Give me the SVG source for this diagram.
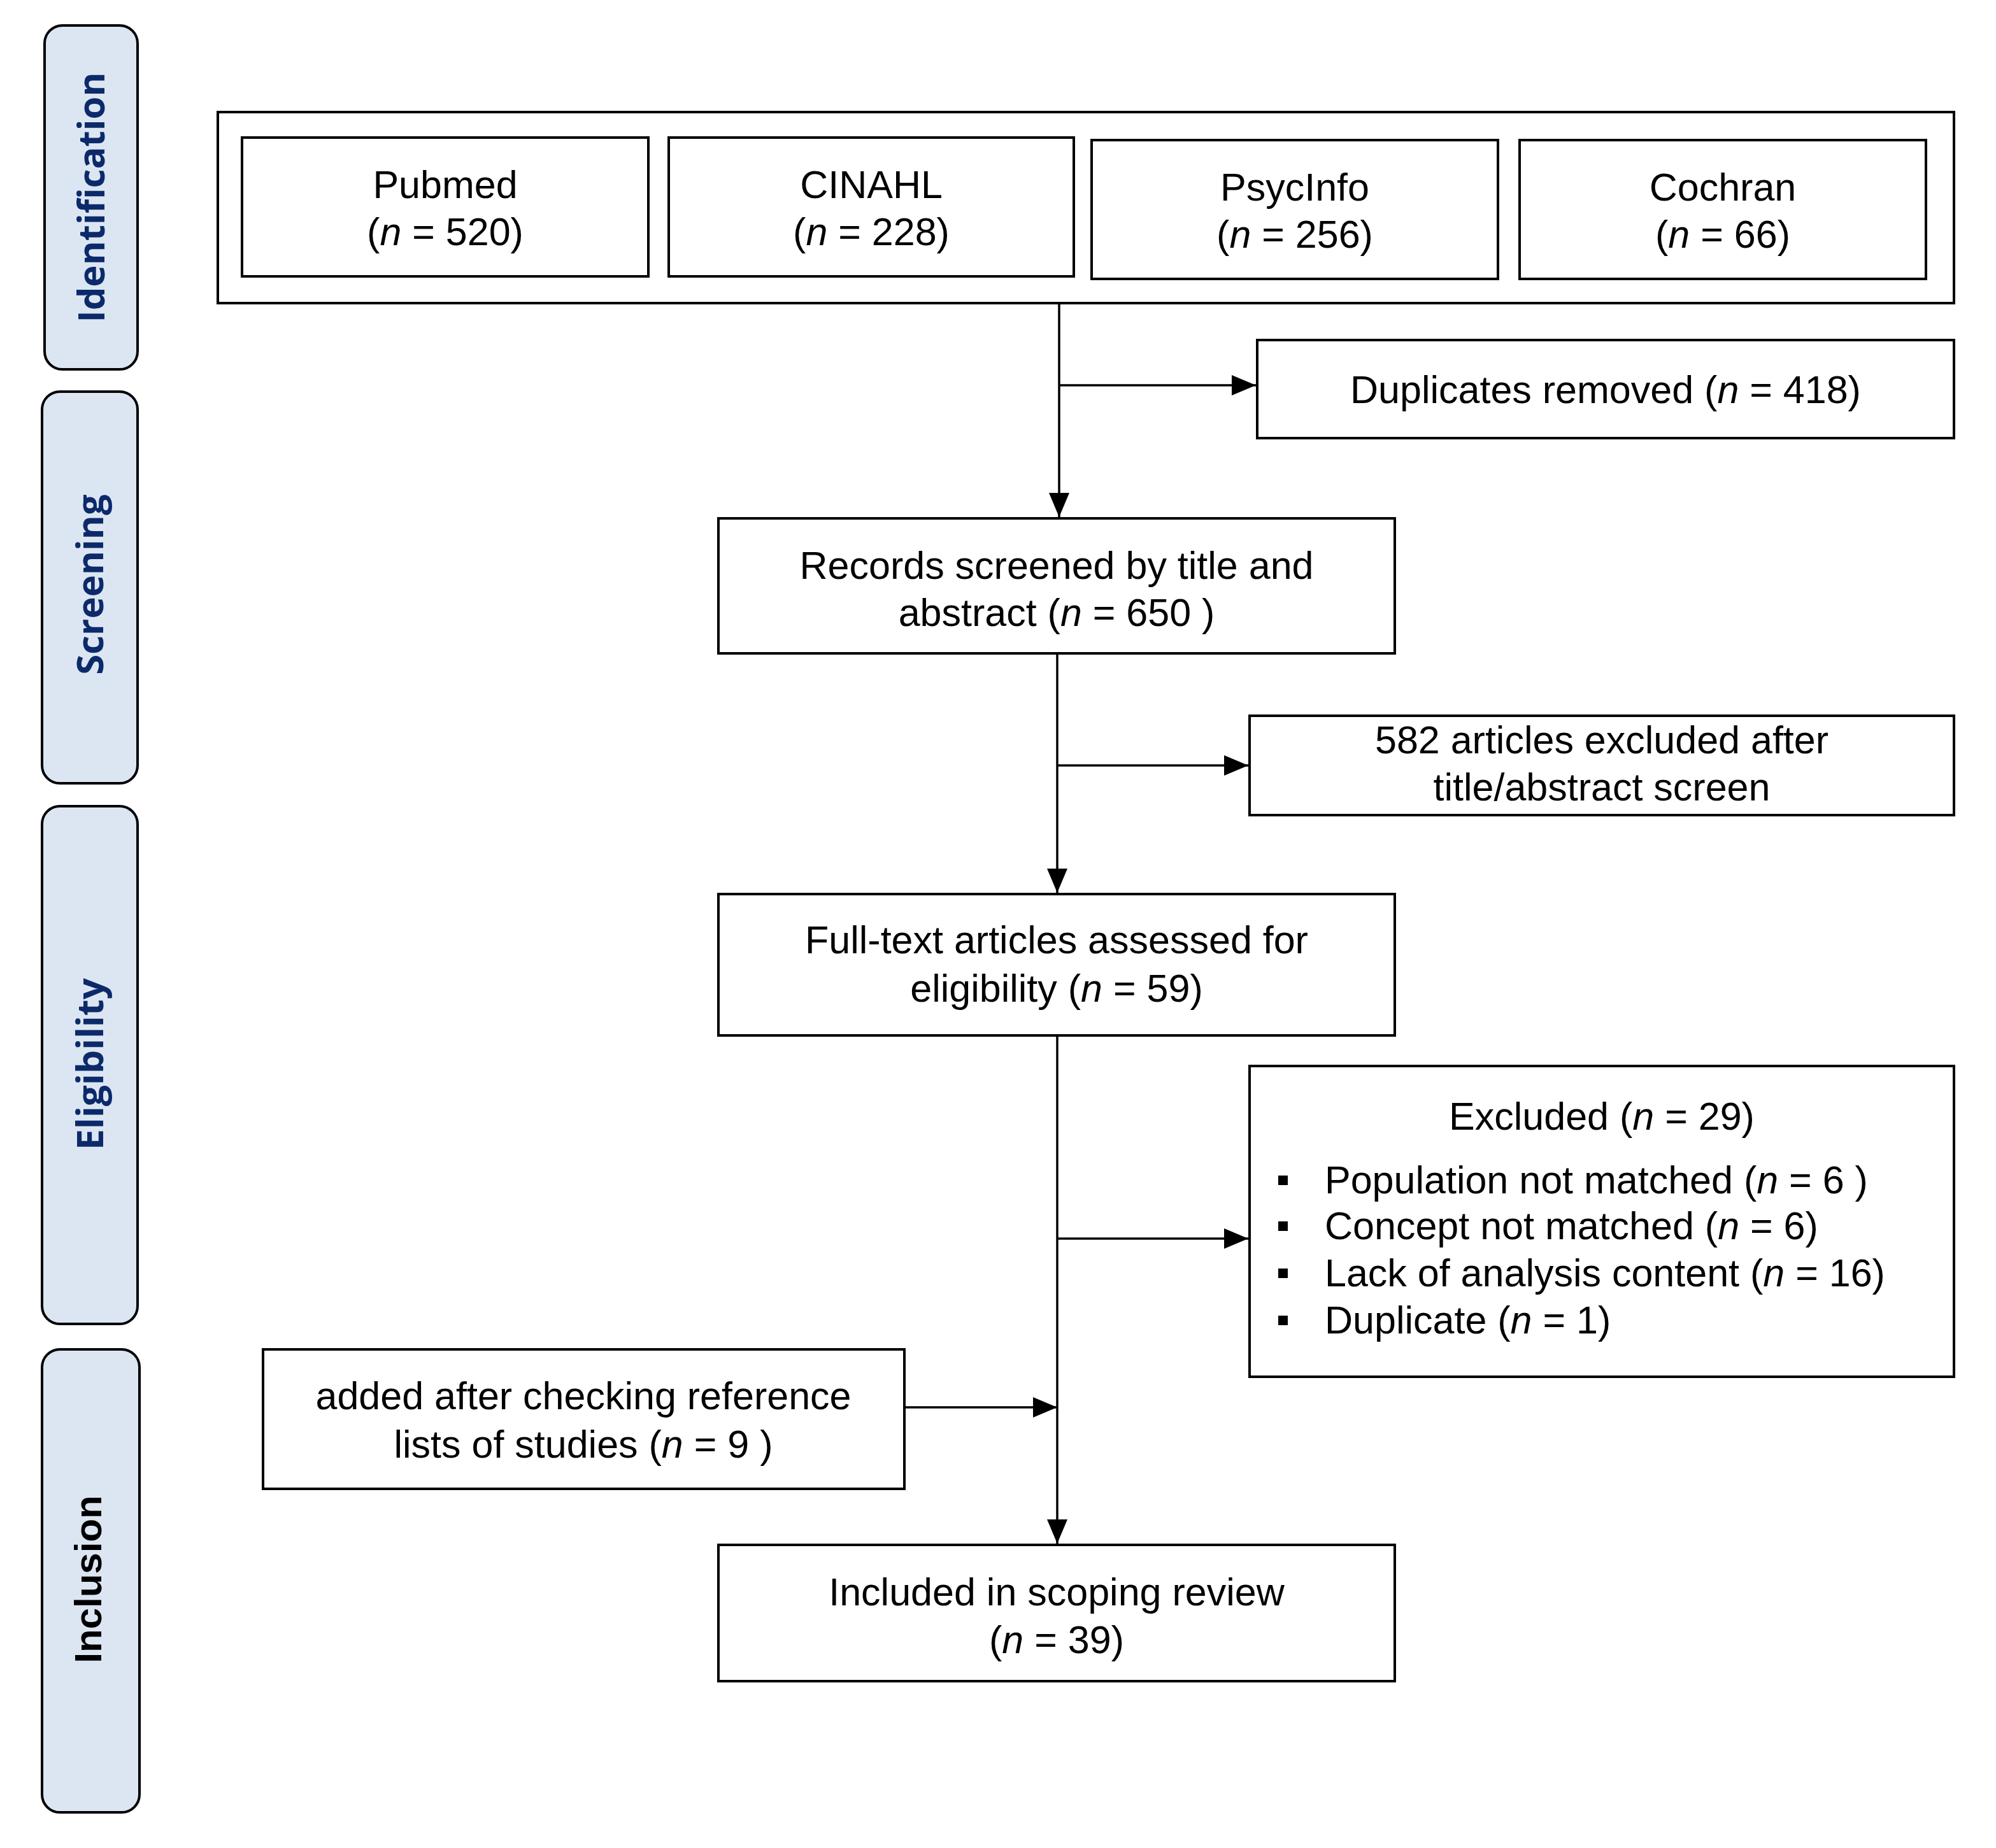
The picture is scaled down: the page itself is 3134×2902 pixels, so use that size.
<svg xmlns="http://www.w3.org/2000/svg" width="3134" height="2902" viewBox="0 0 3134 2902">
<defs>
<style>
.box{fill:#fff;stroke:#000;stroke-width:4}
.pill{fill:#DCE6F2;stroke:#000;stroke-width:4}
.t{font-family:"Liberation Sans",Arial,sans-serif;font-size:61px;fill:#000;text-anchor:middle}
.tl{font-family:"Liberation Sans",Arial,sans-serif;font-size:61px;fill:#000;text-anchor:start}
.ph{font-family:"Open Sans","DejaVu Sans",sans-serif;font-weight:bold;font-size:58px;fill:#0c2a6a;text-anchor:middle}
.phb{font-family:"Liberation Sans",Arial,sans-serif;font-weight:bold;font-size:60px;fill:#000;text-anchor:middle}
.i{font-style:italic}
.c{fill:none;stroke:#000;stroke-width:3.5}
</style>
<marker id="ah" markerUnits="userSpaceOnUse" markerWidth="38" markerHeight="32" refX="38" refY="16" orient="auto">
<path d="M0,0 L38,16 L0,32 z" fill="#000"/>
</marker>
</defs>
<rect width="3134" height="2902" fill="#fff"/>

<g id="phase-identification">
<rect class="pill" x="70" y="40" width="146" height="540" rx="28" ry="28"/>
<text class="ph" transform="translate(164,310) rotate(-90)">Identification</text>
</g>
<g id="phase-screening">
<rect class="pill" x="66" y="615" width="150" height="615" rx="28" ry="28"/>
<text class="ph" transform="translate(162,918) rotate(-90)">Screening</text>
</g>
<g id="phase-eligibility">
<rect class="pill" x="66" y="1266" width="150" height="813" rx="28" ry="28"/>
<text class="ph" transform="translate(162,1671) rotate(-90)" textLength="270" lengthAdjust="spacingAndGlyphs">Eligibility</text>
</g>
<g id="phase-inclusion">
<rect class="pill" x="66" y="2119" width="153" height="727" rx="28" ry="28"/>
<text class="phb" transform="translate(159,2480) rotate(-90)">Inclusion</text>
</g>

<g id="sources">
<rect class="box" x="342" y="176" width="2726" height="300"/>
</g>
<g id="pubmed">
<rect class="box" x="380" y="216" width="638" height="218"/>
<text class="t" x="699" y="311">Pubmed</text>
<text class="t" x="699" y="385">(<tspan class="i">n</tspan> = 520)</text>
</g>
<g id="cinahl">
<rect class="box" x="1050" y="216" width="636" height="218"/>
<text class="t" x="1368" y="311">CINAHL</text>
<text class="t" x="1368" y="385">(<tspan class="i">n</tspan> = 228)</text>
</g>
<g id="psycinfo">
<rect class="box" x="1714" y="220" width="638" height="218"/>
<text class="t" x="2033" y="315">PsycInfo</text>
<text class="t" x="2033" y="389">(<tspan class="i">n</tspan> = 256)</text>
</g>
<g id="cochran">
<rect class="box" x="2386" y="220" width="638" height="218"/>
<text class="t" x="2705" y="315">Cochran</text>
<text class="t" x="2705" y="389">(<tspan class="i">n</tspan> = 66)</text>
</g>

<g id="duplicates">
<rect class="box" x="1974" y="534" width="1094" height="154"/>
<text class="t" x="2521" y="633">Duplicates removed (<tspan class="i">n</tspan> = 418)</text>
</g>
<g id="records">
<rect class="box" x="1128" y="814" width="1062" height="212"/>
<text class="t" x="1659" y="909">Records screened by title and</text>
<text class="t" x="1659" y="983">abstract (<tspan class="i">n</tspan> = 650 )</text>
</g>
<g id="excluded-title">
<rect class="box" x="1962" y="1124" width="1106" height="156"/>
<text class="t" x="2515" y="1183">582 articles excluded after</text>
<text class="t" x="2515" y="1257">title/abstract screen</text>
</g>
<g id="fulltext">
<rect class="box" x="1128" y="1404" width="1062" height="222"/>
<text class="t" x="1659" y="1497">Full-text articles assessed for</text>
<text class="t" x="1659" y="1573">eligibility (<tspan class="i">n</tspan> = 59)</text>
</g>
<g id="excluded">
<rect class="box" x="1962" y="1674" width="1106" height="488"/>
<text class="t" x="2515" y="1774">Excluded (<tspan class="i">n</tspan> = 29)</text>
<rect x="2007" y="1846" width="15" height="15" fill="#000"/>
<rect x="2007" y="1918" width="15" height="15" fill="#000"/>
<rect x="2007" y="1992" width="15" height="15" fill="#000"/>
<rect x="2007" y="2066" width="15" height="15" fill="#000"/>
<text class="tl" x="2080" y="1874">Population not matched (<tspan class="i">n</tspan> = 6 )</text>
<text class="tl" x="2080" y="1946">Concept not matched (<tspan class="i">n</tspan> = 6)</text>
<text class="tl" x="2080" y="2020">Lack of analysis content (<tspan class="i">n</tspan> = 16)</text>
<text class="tl" x="2080" y="2094">Duplicate (<tspan class="i">n</tspan> = 1)</text>
</g>
<g id="added">
<rect class="box" x="413" y="2119" width="1007" height="219"/>
<text class="t" x="916" y="2213">added after checking reference</text>
<text class="t" x="916" y="2289">lists of studies (<tspan class="i">n</tspan> = 9 )</text>
</g>
<g id="included">
<rect class="box" x="1128" y="2426" width="1062" height="214"/>
<text class="t" x="1659" y="2521">Included in scoping review</text>
<text class="t" x="1659" y="2596">(<tspan class="i">n</tspan> = 39)</text>
</g>

<g id="connectors">
<path class="c" d="M1663,478 L1663,812" marker-end="url(#ah)"/>
<path class="c" d="M1663,605 L1972,605" marker-end="url(#ah)"/>
<path class="c" d="M1660,1026 L1660,1402" marker-end="url(#ah)"/>
<path class="c" d="M1660,1202 L1960,1202" marker-end="url(#ah)"/>
<path class="c" d="M1660,1626 L1660,2424" marker-end="url(#ah)"/>
<path class="c" d="M1660,1945 L1960,1945" marker-end="url(#ah)"/>
<path class="c" d="M1420,2210 L1660,2210" marker-end="url(#ah)"/>
</g>
</svg>
